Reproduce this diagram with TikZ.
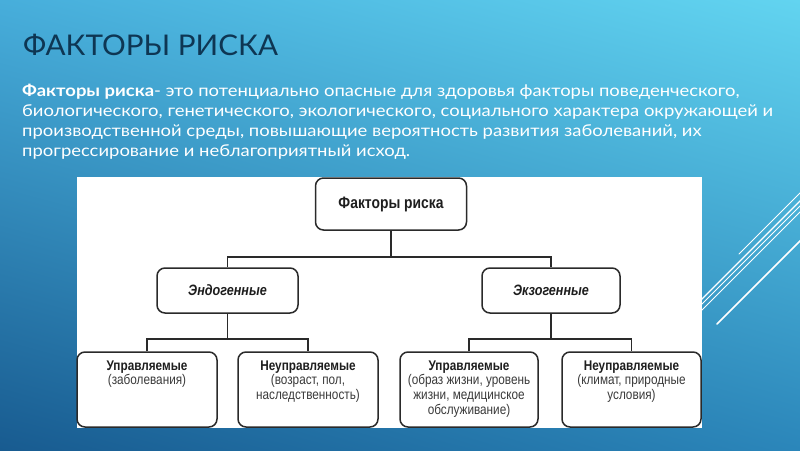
\documentclass[tikz,border=0pt]{standalone}
\usepackage{fontspec}
\setmainfont{Lato}
\newfontfamily\parafont[FakeStretch=1.125]{Lato}
\newfontfamily\titlefont[FakeStretch=1.04]{Lato}
\newfontfamily\diagfont[FakeStretch=0.84]{Liberation Sans}
\usetikzlibrary{calc,shadings}
\definecolor{bgUL}{HTML}{47AEDB}
\definecolor{bgUR}{HTML}{62D4F0}
\definecolor{bgLL}{HTML}{185B90}
\definecolor{bgLR}{HTML}{2B86BA}
\definecolor{titlecol}{HTML}{0E3653}
\definecolor{boxline}{HTML}{2A2A2A}
\definecolor{boldtxt}{HTML}{1E1E1E}
\definecolor{regtxt}{HTML}{3A3A3A}
\tikzset{
  box/.style={draw=boxline, line width=1.5pt, rounded corners=8pt, fill=white, inner sep=0pt},
  link/.style={draw=boxline, line width=1.2pt},
  deco/.style={draw=white, line cap=round},
  para/.style={anchor=base west, inner sep=0pt, text=white, font=\parafont\fontsize{16.4}{20}\selectfont}
}
\newcommand{\lowbox}[2]{\parbox[c][75pt][t]{#1}{\vspace{8.5pt}\centering\diagfont\fontsize{14}{14.8}\selectfont #2\par}}
\begin{document}
\begin{tikzpicture}[x=1pt,y=-1pt]
\useasboundingbox (0,0) rectangle (800,450);
\shade[upper left=bgUL, upper right=bgUR, lower left=bgLL, lower right=bgLR] (0,0) rectangle (800,450);
% decorative lines
\draw[deco, line width=0.9pt] (739,254) -- (801,192);
\draw[deco, line width=1.3pt] (700,301) -- (801,200);
\draw[deco, line width=0.8pt] (700,306) -- (801,205);
\draw[deco, line width=0.8pt] (700,312) -- (801,211);
\draw[deco, line width=1.6pt] (717,324) -- (801,240);
% title
\node[anchor=base west, inner sep=0pt, text=titlecol, font=\titlefont\fontsize{28.5}{30}\selectfont] (title) at (23,55) {ФАКТОРЫ РИСКА};
% paragraph
\node[para] (p1) at (22,96) {\textbf{Факторы риска}- это потенциально опасные для здоровья факторы поведенческого,};
\node[para] (p2) at (22,116) {биологического, генетического, экологического, социального характера окружающей и};
\node[para] (p3) at (22,136) {производственной среды, повышающие вероятность развития заболеваний, их};
\node[para] (p4) at (22,156) {прогрессирование и неблагоприятный исход.};
% white panel
\fill[white] (77,177) rectangle (702,428);
% diagram boxes
\node[box, minimum width=151pt, minimum height=52pt, text=boldtxt, font=\diagfont\bfseries\fontsize{16.5}{18}\selectfont] (top) at (391,204) {Факторы риска};
\node[box, minimum width=141pt, minimum height=45pt, text=boldtxt, font=\diagfont\bfseries\itshape\fontsize{15}{16}\selectfont] (endo) at (227.5,290.5) {Эндогенные};
\node[box, minimum width=138pt, minimum height=45pt, text=boldtxt, font=\diagfont\bfseries\itshape\fontsize{15}{16}\selectfont] (exo) at (551,290.5) {Экзогенные};
\node[box, text=regtxt] (b1) at (147,389.5) {\lowbox{140pt}{\textcolor{boldtxt}{\bfseries Управляемые}\\(заболевания)}};
\node[box, text=regtxt] (b2) at (308,389.5) {\lowbox{140pt}{\textcolor{boldtxt}{\bfseries Неуправляемые}\\(возраст, пол,\\наследственность)}};
\node[box, text=regtxt] (b3) at (469,389.5) {\lowbox{138pt}{\textcolor{boldtxt}{\bfseries Управляемые}\\(образ жизни, уровень\\жизни, медицинское\\обслуживание)}};
\node[box, text=regtxt] (b4) at (631.5,389.5) {\lowbox{139pt}{\textcolor{boldtxt}{\bfseries Неуправляемые}\\(климат, природные\\условия)}};
% connectors
\coordinate (bus1) at (top.south |- 0,257);
\coordinate (busL) at (endo.south |- 0,339);
\coordinate (busR) at (exo.south |- 0,339);
\draw[link] (top.south) -- (bus1);
\draw[link] (endo.north) |- (bus1) -| (exo.north);
\draw[link] (endo.south) -- (busL);
\draw[link] (b1.north) |- (busL) -| (b2.north);
\draw[link] (exo.south) -- (busR);
\draw[link] (b3.north) |- (busR) -| (b4.north);
\end{tikzpicture}
\end{document}
